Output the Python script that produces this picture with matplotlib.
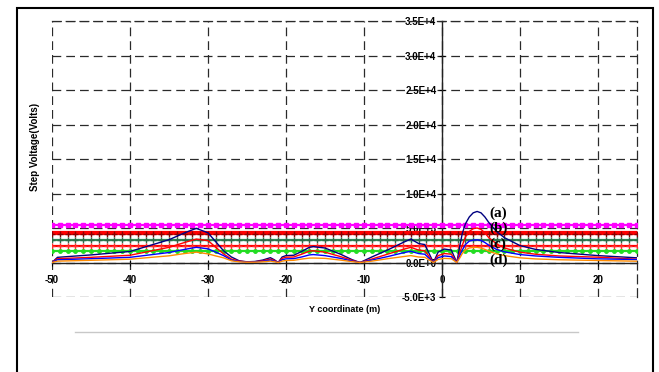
import matplotlib
matplotlib.use("Agg")
import matplotlib.pyplot as plt
import numpy as np
from matplotlib.patches import Rectangle
from matplotlib.lines import Line2D

# y coordinate along the profile (m)
y_pos = [-50, -49.3, -45, -40, -35, -33, -31.5, -30, -29, -28, -27, -26, -25, -24, -23, -22, -21.5, -21,
         -20.5, -20, -19, -18, -17, -16.5, -15, -13, -11.5, -10.5, -9, -7, -5, -4, -3, -2.2, -1.1, -0.5,
         0.3, 1.2, 1.9, 2.3, 2.6, 3, 3.5, 4, 4.5, 5, 5.5, 6, 7, 8, 10, 12, 15, 20, 25]

# step voltage curves (V)
step_a = [0, 750, 1100, 1600, 3300, 4300, 4950, 4300, 3000, 1700, 800, 250, 100, 150, 350, 700, 400, 0,
          800, 1000, 1050, 1600, 2200, 2300, 2100, 1200, 400, 0, 800, 1800, 2900, 3400, 2750, 2600, 0, 1500,
          1950, 1800, 0, 2500, 4200, 5600, 6600, 7200, 7400, 7200, 6600, 5800, 4500, 3600, 2450, 1900, 1450, 1000, 680]
step_b = [0, 550, 750, 1050, 2200, 2900, 3400, 3180, 2200, 1250, 500, 200, 80, 100, 250, 500, 300, 0,
          600, 770, 800, 1200, 1650, 1700, 1500, 850, 300, 0, 500, 1200, 1900, 2200, 1800, 1700, 0, 1000,
          1300, 1200, 0, 1500, 2500, 3700, 4500, 4900, 5000, 4800, 4300, 3600, 2700, 2100, 1500, 1200, 950, 770, 480]
step_c = [0, 400, 550, 750, 1450, 1900, 2200, 1980, 1500, 1000, 350, 150, 60, 80, 180, 350, 200, 0,
          400, 530, 560, 800, 1100, 1150, 1000, 600, 200, 0, 350, 850, 1400, 1630, 1300, 1200, 0, 700,
          950, 850, 0, 1000, 1800, 2600, 3100, 3250, 3280, 3200, 2900, 2500, 1900, 1550, 1150, 950, 750, 530, 430]
step_d = [0, 200, 320, 480, 970, 1300, 1500, 1250, 950, 680, 250, 100, 40, 50, 100, 200, 120, 0,
          200, 290, 320, 500, 640, 650, 600, 350, 120, 0, 200, 550, 850, 1000, 800, 750, 0, 450,
          600, 550, 0, 700, 1300, 1800, 2100, 2200, 2200, 2100, 1900, 1650, 1250, 1000, 680, 520, 400, 290, 190]
curve_names = ["(a)", "(b)", "(c)", "(d)"]

# permissible step voltage levels (V)
limit_levels = [5400, 4400, 4100, 3250, 2450, 1700]

x_ticks = [-50, -40, -30, -20, -10, 0, 10, 20]
y_ticks = [-5000, 0, 5000, 10000, 15000, 20000, 25000, 30000, 35000]
y_tick_labels = ["-5.0E+3", "0.0E+0", "5.0E+3", "1.0E+4", "1.5E+4", "2.0E+4", "2.5E+4", "3.0E+4", "3.5E+4"]


def draw():
    plt.rcParams['font.family'] = ['Liberation Sans', 'DejaVu Sans']
    plt.rcParams['axes.unicode_minus'] = False
    fig = plt.figure(figsize=(6.59, 3.72), dpi=100)
    ax = fig.add_axes([0.0789, 0.2016, 0.8877, 0.7419])
    ax.set_xlim(-50, 25)
    ax.set_ylim(-5000, 35000)

    ax.grid(True, linestyle=(0, (7, 4)), color='#2a2a2a', lw=0.9)
    ax.set_axisbelow(True)

    # permissible levels
    marks = np.arange(-50, 26)
    styles = [dict(color='magenta', marker='s', ms=2.5, mfc='magenta', mec='magenta'),
              dict(color='red', marker=None),
              dict(color='red', marker='+', ms=4, mec='darkred'),
              dict(color='seagreen', marker='+', ms=4, mec='#2e6b4a'),
              dict(color='red', marker='+', ms=4, mec='#ff3030'),
              dict(color='#22dd22', marker='o', ms=2.5, mfc='#22dd22', mec='#22dd22')]
    for lev, st in zip(limit_levels, styles):
        ax.plot(marks, [lev] * len(marks), lw=1.6, zorder=3, **st)

    colors = ['navy', 'red', 'blue', 'darkorange']
    for vals, c in zip([step_a, step_b, step_c, step_d], colors):
        ax.plot(y_pos, vals, color=c, lw=1.0, zorder=4)

    label_y = [7200, 4900, 2600, 300]
    for name, ly in zip(curve_names, label_y):
        ax.text(7.2, ly, name, family='Liberation Serif', fontsize=11, fontweight='bold',
                ha='center', va='center', zorder=5)

    ax.spines['left'].set_position(('data', 0))
    ax.spines['bottom'].set_position(('data', 0))
    for s in ['left', 'bottom']:
        ax.spines[s].set_color('#222222')
        ax.spines[s].set_linewidth(1.0)
    for s in ['top', 'right']:
        ax.spines[s].set_linestyle((0, (7, 4)))
        ax.spines[s].set_color('#2a2a2a')
        ax.spines[s].set_linewidth(0.9)

    ax.set_xticks(x_ticks)
    ax.set_yticks(y_ticks)
    ax.set_yticklabels(y_tick_labels)
    ax.tick_params(direction='inout', length=4, width=0.8, labelsize=7)
    ax.tick_params(axis='x', pad=7)
    ax.tick_params(axis='y', pad=2)
    for lbl in ax.get_xticklabels() + ax.get_yticklabels():
        lbl.set_fontweight('bold')

    fig.text(35 / 659, 1 - 147 / 372, "Step Voltage(Volts)", rotation=90, fontsize=7,
             fontweight='bold', ha='center', va='center')
    fig.text(345 / 659, 1 - 310 / 372, "Y coordinate (m)", fontsize=6.5,
             fontweight='bold', ha='center', va='center')

    fig.add_artist(Line2D([75 / 659, 578 / 659], [1 - 332 / 372, 1 - 332 / 372],
                          color='#c8c8c8', lw=1.0))
    fig.add_artist(Rectangle((17 / 659, -0.1), (653 - 17) / 659, 1.1 - 8 / 372,
                             fill=False, ec='black', lw=1.5))

    fig.savefig("out.png", dpi=100)


def main():
    draw()


if __name__ == "__main__":
    main()
